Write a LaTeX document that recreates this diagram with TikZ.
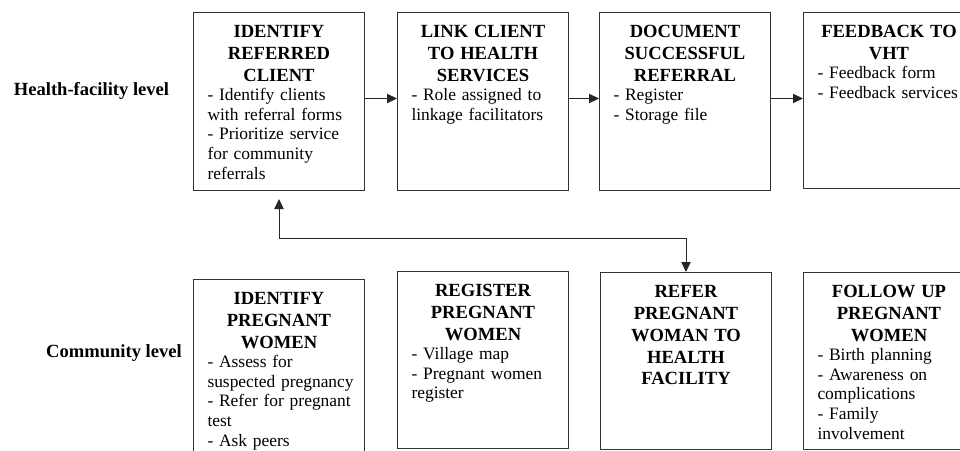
\documentclass[tikz,border=0pt]{standalone}
\usepackage{fontspec}
\setmainfont{Liberation Serif}
\usetikzlibrary{arrows.meta}
\setlength{\parindent}{0pt}
\hyphenpenalty=10000
\hbadness=10000
\hfuzz=20pt

\newcommand{\stagetitle}[1]{{\centering\fontsize{13}{15.3}\selectfont\bfseries #1\par}\rightskip=-12pt\relax}

\begin{document}
\begin{tikzpicture}[x=0.7pt, y=-0.7pt,
    >={Triangle[length=7pt,width=6.5pt]},
    stage/.style={draw=black!80, line width=0.7pt, anchor=north west,
      inner xsep=9.8pt, inner ysep=0pt, text width=100.1pt,
      text height=17.5pt, text depth=#1,
      font=\fontsize{12.2}{13.7}\selectfont},
    stage/.default=107.1pt,
    link/.style={draw=black!85, line width=0.7pt, ->},
    level/.style={font=\fontsize{13}{15.6}\selectfont\bfseries}]
    \useasboundingbox (0,0) rectangle (960,451);

    % row labels
    \node[level] (hflevel) at (91.5,91) {Health-facility level};
    \node[level] (comlevel) at (114,353) {Community level};

    % health-facility level
    \node[stage] (idref) at (193,12) {\stagetitle{IDENTIFY\\ REFERRED\\ CLIENT}- Identify clients\\ with referral forms\\ - Prioritize service\\ for community\\ referrals};
    \node[stage] (linkhs) at (397,12) {\stagetitle{LINK CLIENT\\ TO HEALTH\\ SERVICES}- Role assigned to\\ linkage facilitators};
    \node[stage] (docref) at (599,12) {\stagetitle{DOCUMENT\\ SUCCESSFUL\\ REFERRAL}- Register\\ - Storage file};
    \node[stage=105.7pt] (fback) at (803,12) {\stagetitle{FEEDBACK TO\\ VHT}- Feedback form\\ - Feedback services};

    % community level
    \node[stage=140pt] (idpreg) at (193,279) {\stagetitle{IDENTIFY\\ PREGNANT\\ WOMEN}- Assess for\\ suspected pregnancy\\ - Refer for pregnant\\ test\\ - Ask peers};
    \node[stage=106.4pt] (regpreg) at (397,271) {\stagetitle{REGISTER\\ PREGNANT\\ WOMEN}- Village map\\ - Pregnant women\\ register};
    \node[stage=106.4pt] (refer) at (600,272) {\stagetitle{REFER\\ PREGNANT\\ WOMAN TO\\ HEALTH\\ FACILITY}};
    \node[stage=106.4pt] (followup) at (803,272) {\stagetitle{FOLLOW UP\\ PREGNANT\\ WOMEN}- Birth planning\\ - Awareness on\\ complications\\ - Family\\ involvement};

    \draw[link] ([yshift=2.1pt]idref.east) -- ([yshift=2.1pt]linkhs.west);
    \draw[link] ([yshift=2.1pt]linkhs.east) -- ([yshift=2.1pt]docref.west);
    \draw[link] ([yshift=2.1pt]docref.east) -- ([yshift=2.1pt]docref.east -| fback.west);

    \coordinate (turn) at (0,238);
    \draw[link, <->, shorten <=5.6pt] (idref.south) -- (idref.south |- turn) -| (refer.north);
\end{tikzpicture}
\end{document}
